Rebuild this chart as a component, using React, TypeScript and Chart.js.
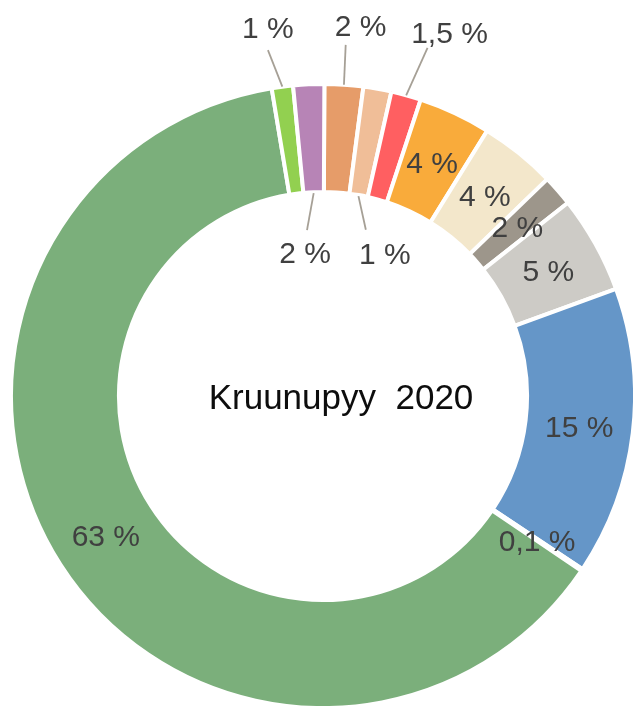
import { useEffect, useRef } from "react";
import { Chart, registerables } from "chart.js";

Chart.register(...registerables);

// ---- data ----
const categories = [
  "Luokka A", "Luokka B", "Luokka C", "Luokka D", "Luokka E", "Luokka F",
  "Luokka G", "Luokka H", "Luokka I", "Luokka J", "Luokka K", "Luokka L",
];
const shares = [2.0, 1.45, 1.55, 3.75, 3.95, 1.6, 5.05, 14.95, 0.1, 62.9, 1.1, 1.6];
const shareLabels = [
  "2 %", "1 %", "1,5 %", "4 %", "4 %", "2 %", "5 %", "15 %", "0,1 %", "63 %", "1 %", "2 %",
];
const sliceColors = [
  "#E69C69", "#F0BE98", "#FF5F61", "#F9AB3B", "#F3E7CB", "#9D968B",
  "#CDCBC6", "#6596C8", "#A5A5A5", "#7BAF7B", "#92D050", "#B784B6",
];
const titleText = "Kruunupyy  2020";

// ---- label layout (not data) ----
type Place =
  | { kind: "in" }
  | { kind: "out" | "hole"; dA: number; r: number; ex: number; ey: number };
const labelPlacement: Place[] = [
  { kind: "out", dA: 1.95, r: 373, ex: -15, ey: 20 },
  { kind: "hole", dA: 13.3, r: 156, ex: -19, ey: -23 },
  { kind: "out", dA: 3.7, r: 385.5, ex: -22, ey: 16 },
  { kind: "in" },
  { kind: "in" },
  { kind: "in" },
  { kind: "in" },
  { kind: "in" },
  { kind: "in" },
  { kind: "in" },
  { kind: "out", dA: -1.0, r: 373, ex: 0, ey: 23 },
  { kind: "hole", dA: -4.5, r: 145, ex: 2, ey: -22 },
];

const LABEL_FONT = 30;
const TITLE_FONT = 35;
const FONT_FAMILY = "'Liberation Sans', Arial, sans-serif";

const labelPlugin = {
  id: "sliceLabels",
  afterDatasetsDraw(chart: any) {
    const ctx = chart.ctx as CanvasRenderingContext2D;
    const meta = chart.getDatasetMeta(0);
    ctx.save();
    meta.data.forEach((arc: any, i: number) => {
      const p = arc.getProps(
        ["x", "y", "startAngle", "endAngle", "innerRadius", "outerRadius"],
        true
      );
      const mid = (p.startAngle + p.endAngle) / 2;
      const place = labelPlacement[i];
      let lx: number, ly: number;
      if (place.kind === "in") {
        const r = (p.innerRadius + p.outerRadius) / 2;
        lx = p.x + r * Math.cos(mid);
        ly = p.y + r * Math.sin(mid);
      } else {
        const a = mid + (place.dA * Math.PI) / 180;
        lx = p.x + place.r * Math.cos(a);
        ly = p.y + place.r * Math.sin(a);
        const rs = place.kind === "out" ? p.outerRadius : p.innerRadius - 1;
        const sx = p.x + rs * Math.cos(mid);
        const sy = p.y + rs * Math.sin(mid);
        ctx.beginPath();
        ctx.moveTo(sx, sy);
        ctx.lineTo(lx + place.ex, ly + place.ey);
        ctx.strokeStyle = "#A6A096";
        ctx.lineWidth = 1.8;
        ctx.stroke();
      }
      ctx.font = `${LABEL_FONT}px ${FONT_FAMILY}`;
      ctx.fillStyle = "#404040";
      ctx.textAlign = "center";
      ctx.textBaseline = "alphabetic";
      ctx.fillText(shareLabels[i], lx, ly + LABEL_FONT * 0.358);
    });
    // centre title
    const a0 = meta.data[0];
    if (a0) {
      const c = a0.getProps(["x", "y"], true);
      ctx.font = `${TITLE_FONT}px ${FONT_FAMILY}`;
      ctx.fillStyle = "#0D0D0D";
      ctx.textAlign = "center";
      ctx.textBaseline = "alphabetic";
      ctx.fillText(titleText, c.x + 18, c.y + TITLE_FONT * 0.358);
    }
    ctx.restore();
  },
};

export default function App() {
  const ref = useRef<HTMLCanvasElement | null>(null);
  useEffect(() => {
    if (!ref.current) return;
    const chart = new Chart(ref.current, {
      type: "doughnut",
      data: {
        labels: categories,
        datasets: [
          {
            data: shares,
            backgroundColor: sliceColors,
            borderColor: "#FFFFFF",
            borderWidth: 4,
            clip: false,
          } as any,
        ],
      },
      options: {
        responsive: false,
        maintainAspectRatio: false,
        devicePixelRatio: 1,
        animation: false,
        rotation: 0.25,
        radius: 312,
        cutout: "65.4%",
        layout: { padding: { left: 13, right: 0, top: 86, bottom: 0 } },
        events: [],
        plugins: {
          legend: { display: false },
          tooltip: { enabled: false },
          title: { display: false },
        },
      } as any,
      plugins: [labelPlugin],
    });
    return () => chart.destroy();
  }, []);
  return (
    <div style={{ position: "absolute", left: 0, top: 0, width: 633, height: 706, background: "#fff" }}>
      <canvas ref={ref} width={633} height={706} style={{ display: "block", width: 633, height: 706 }} />
    </div>
  );
}
